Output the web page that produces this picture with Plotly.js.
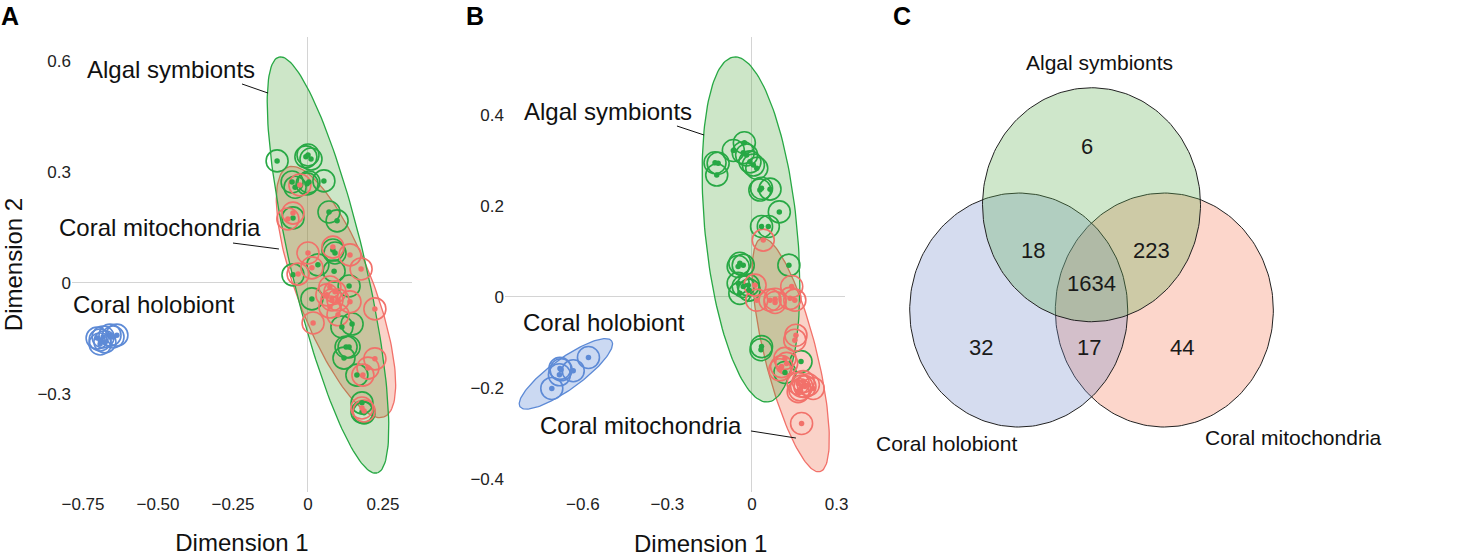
<!DOCTYPE html>
<html>
<head>
<meta charset="utf-8">
<script src="https://cdn.plot.ly/plotly-3.0.1.min.js"></script>
<style>html,body{margin:0;padding:0;background:#fff;}#chart{width:1463px;height:559px;}</style>
</head>
<body>
<div id="chart"></div>
<script>
// ---------------- DATA ----------------
// Panel A: PCoA (Dimension 1, Dimension 2)
const aAlgalX = [-0.103,-0.007,0.000,0.010,-0.053,-0.043,-0.003,0.003,0.053,0.070,0.097,-0.050,0.083,0.090,0.033,0.087,-0.050,0.137,0.013,0.147,0.113,0.127,0.137,0.120,0.163,0.180,0.180,0.187];
const aAlgalY = [0.330,0.341,0.346,0.335,0.273,0.259,0.268,0.273,0.276,0.192,0.168,0.176,0.089,0.081,0.049,0.032,0.022,-0.008,-0.043,-0.111,-0.119,-0.173,-0.173,-0.203,-0.249,-0.324,-0.349,-0.351];
const aMitoX = [-0.050,-0.067,-0.027,0.000,0.083,0.140,0.177,0.013,-0.033,0.073,0.063,0.080,0.090,0.100,0.073,0.140,0.223,0.017,0.100,0.223,0.200,0.183,0.180,0.187];
const aMitoY = [0.189,0.173,0.265,0.081,0.097,0.076,0.038,0.041,0.024,-0.011,-0.032,-0.046,-0.024,-0.046,-0.065,-0.051,-0.070,-0.108,-0.086,-0.205,-0.230,-0.249,-0.338,-0.346];
const aHoloX = [-0.703,-0.693,-0.683,-0.677,-0.660,-0.650,-0.693,-0.637];
const aHoloY = [-0.149,-0.154,-0.146,-0.159,-0.141,-0.146,-0.165,-0.141];

// Panel B
const bAlgalX = [-0.131,-0.120,-0.125,-0.066,-0.027,-0.031,-0.019,-0.007,0.005,0.017,0.028,0.034,0.064,0.097,0.034,0.058,0.131,-0.043,-0.031,-0.049,-0.049,-0.031,-0.013,-0.043,-0.010,0.034,0.032,0.174,0.117];
const bAlgalY = [0.295,0.294,0.268,0.322,0.339,0.317,0.312,0.297,0.290,0.283,0.235,0.239,0.237,0.187,0.155,0.155,0.070,0.074,0.070,0.067,0.030,0.023,0.026,0.008,0.015,-0.109,-0.116,-0.142,-0.166];
const bMitoX = [0.040,0.011,0.017,0.064,0.082,0.082,0.135,0.152,0.141,0.156,0.152,0.117,0.123,0.105,0.099,0.164,0.176,0.188,0.170,0.182,0.200,0.217,0.164,0.176];
const bMitoY = [0.125,0.026,-0.007,-0.007,-0.005,-0.012,-0.003,-0.007,0.023,-0.084,-0.095,-0.135,-0.146,-0.153,-0.160,-0.190,-0.196,-0.197,-0.204,-0.186,-0.193,-0.201,-0.208,-0.278];
const bHoloX = [-0.580,-0.634,-0.681,-0.683,-0.677,-0.710];
const bHoloY = [-0.133,-0.162,-0.157,-0.171,-0.160,-0.201];

// Confidence ellipses: centre and two conjugate semi-axis vectors (data units)
const ellNames = ['A Coral mitochondria','A Algal symbionts','B Coral holobiont','B Coral mitochondria','B Algal symbionts'];
const ellCx = [0.0933, 0.0667, -0.660, 0.1376, -0.0035];
const ellCy = [-0.0243, 0.0486, -0.169, -0.1275, 0.1484];
const ellUx = [0.1600, 0.1633, 0.1624, 0.1035, 0.0603];
const ellUy = [-0.3378, -0.5622, 0.0725, -0.2565, -0.3791];
const ellVx = [-0.1183, -0.1200, 0.0319, -0.0894, -0.1624];
const ellVy = [-0.0368, -0.0230, -0.0275, -0.0138, -0.0098];

// Panel C: Venn diagram
const vennSets = ['Algal symbionts','Coral holobiont','Coral mitochondria'];
const vennRegions = ['Algal only','Algal ∩ Holobiont','Algal ∩ Mito','All three','Holobiont only','Holobiont ∩ Mito','Mito only'];
const vennCounts = [6, 18, 223, 1634, 32, 17, 44];

// ---------------- STYLE / LAYOUT ----------------
const FONT = 'Liberation Sans, Arial, Helvetica, sans-serif';
const GREEN = '#27a844', RED = '#f2716a', BLUE = '#5d8ad6';
const FILL = {
  green: 'rgba(55,155,35,0.25)',
  red: 'rgba(238,105,72,0.30)',
  blue: 'rgba(93,138,214,0.32)'
};
const ellStyle = [
  {ax:'A', line:RED, fill:FILL.red},
  {ax:'A', line:GREEN, fill:FILL.green},
  {ax:'B', line:BLUE, fill:FILL.blue},
  {ax:'B', line:RED, fill:FILL.red},
  {ax:'B', line:GREEN, fill:FILL.green}
];

function ellipse(i){
  const xs=[], ys=[];
  for(let k=0;k<=160;k++){
    const t = 2*Math.PI*k/160;
    xs.push(ellCx[i] + ellUx[i]*Math.cos(t) + ellVx[i]*Math.sin(t));
    ys.push(ellCy[i] + ellUy[i]*Math.cos(t) + ellVy[i]*Math.sin(t));
  }
  return {xs, ys};
}

const traces = [];
ellNames.forEach((n,i)=>{
  const e = ellipse(i), s = ellStyle[i];
  traces.push({type:'scatter', mode:'lines', x:e.xs, y:e.ys, fill:'toself', fillcolor:s.fill,
    line:{color:s.line, width:1.3}, hoverinfo:'skip', name:n,
    xaxis: s.ax==='A'?'x':'x2', yaxis: s.ax==='A'?'y':'y2'});
});

function pts(x,y,color,xa,ya){
  traces.push({type:'scatter', mode:'markers', x, y, xaxis:xa, yaxis:ya, hoverinfo:'skip',
    marker:{symbol:'circle-open', size:22, color:color, line:{width:1.6, color:color}}});
}
function dots(x,y,color,xa,ya){
  traces.push({type:'scatter', mode:'markers', x, y, xaxis:xa, yaxis:ya, hoverinfo:'skip',
    marker:{symbol:'circle', size:5.5, color:color}});
}
pts(aAlgalX,aAlgalY,GREEN,'x','y'); pts(aMitoX,aMitoY,RED,'x','y'); pts(aHoloX,aHoloY,BLUE,'x','y');
dots(aAlgalX,aAlgalY,GREEN,'x','y'); dots(aMitoX,aMitoY,RED,'x','y'); dots(aHoloX,aHoloY,BLUE,'x','y');
pts(bAlgalX,bAlgalY,GREEN,'x2','y2'); pts(bMitoX,bMitoY,RED,'x2','y2'); pts(bHoloX,bHoloY,BLUE,'x2','y2');
dots(bAlgalX,bAlgalY,GREEN,'x2','y2'); dots(bMitoX,bMitoY,RED,'x2','y2'); dots(bHoloX,bHoloY,BLUE,'x2','y2');

// Venn circles (unit radius, layout positions)
const vennCentre = {
  'Coral mitochondria': [0.668, 0],
  'Coral holobiont': [-0.668, 0],
  'Algal symbionts': [0, 0.90]
};
const vennFill = {
  'Algal symbionts':'rgba(95,175,82,0.30)',
  'Coral holobiont':'rgba(115,138,202,0.30)',
  'Coral mitochondria':'rgba(245,118,82,0.30)'
};
['Coral mitochondria','Coral holobiont','Algal symbionts'].forEach(name=>{
  const c = vennCentre[name], xs=[], ys=[];
  for(let k=0;k<=200;k++){ const t=2*Math.PI*k/200; xs.push(c[0]+Math.cos(t)); ys.push(c[1]+Math.sin(t)); }
  traces.push({type:'scatter', mode:'lines', x:xs, y:ys, xaxis:'x3', yaxis:'y3', fill:'toself',
    fillcolor:vennFill[name], line:{color:'#222', width:1}, hoverinfo:'skip', name:name});
});
const regionPos = [[-0.04,1.40],[-0.54,0.51],[0.55,0.51],[0.00,0.23],[-1.01,-0.32],[-0.02,-0.32],[0.83,-0.32]];
const setLabelPos = {'Algal symbionts':[0.07,2.12], 'Coral holobiont':[-1.33,-1.14], 'Coral mitochondria':[1.85,-1.09]};

const ann = [];
vennCounts.forEach((v,i)=>ann.push({xref:'x3', yref:'y3', x:regionPos[i][0], y:regionPos[i][1], text:String(v),
  showarrow:false, font:{size:22, color:'#1a1a1a', family:FONT}}));
vennSets.forEach(s=>ann.push({xref:'x3', yref:'y3', x:setLabelPos[s][0], y:setLabelPos[s][1], text:s,
  showarrow:false, font:{size:21, color:'#111', family:FONT}}));

// Group labels on ordination panels
const lab = (xr,yr,x,y,t)=>ann.push({xref:xr, yref:yr, x, y, text:t, showarrow:false, font:{size:24, color:'#111', family:FONT}});
lab('x','y',-0.457,0.576,'Algal symbionts');
lab('x','y',-0.493,0.149,'Coral mitochondria');
lab('x','y',-0.513,-0.059,'Coral holobiont');
lab('x2','y2',-0.511,0.4066,'Algal symbionts');
lab('x2','y2',-0.525,-0.055,'Coral holobiont');
lab('x2','y2',-0.394,-0.2835,'Coral mitochondria');

// Panel letters
[['A',0.00684],['B',0.3247],['C',0.6165]].forEach(([t,x])=>ann.push({xref:'paper', yref:'paper', x, y:0.9714,
  text:'<b>'+t+'</b>', showarrow:false, xanchor:'center', yanchor:'middle', font:{size:25, color:'#000', family:FONT}}));
// Panel B x title
ann.push({xref:'paper', yref:'paper', x:0.4785, y:0, text:'Dimension 1', showarrow:false, xanchor:'center', yanchor:'bottom',
  font:{size:24, color:'#111', family:FONT}});

const leader = (xr,yr,x0,y0,x1,y1)=>({type:'line', xref:xr, yref:yr, x0, y0, x1, y1, line:{color:'#111', width:1}});
const shapes = [
  leader('x','y',-0.22,0.538,-0.1333,0.5135),
  leader('x','y',-0.25,0.108,-0.0967,0.0919),
  leader('x2','y2',-0.266,0.3758,-0.170,0.356),
  leader('x2','y2',-0.0035,-0.2945,0.156,-0.310)
];

const tickFont = {size:17, color:'#222', family:FONT};
const baseAx = {showgrid:false, zeroline:true, zerolinecolor:'#d4d4d4', zerolinewidth:1, showline:false,
  ticks:'', tickfont:tickFont, automargin:false, fixedrange:true, tickmode:'array'};

const layout = {
  width:1463, height:559, paper_bgcolor:'#fff', plot_bgcolor:'#fff', showlegend:false,
  margin:{l:0, r:0, t:0, b:0}, hovermode:false, font:{family:FONT},
  xaxis: Object.assign({}, baseAx, {domain:[0.04921,0.28161], range:[-0.7867,0.3467], anchor:'y',
    tickvals:[-0.75,-0.5,-0.25,0,0.25], ticktext:['−0.75','−0.50','−0.25','0','0.25'],
    title:{text:'Dimension 1', font:{size:24, color:'#111', family:FONT}, standoff:21}}),
  yaxis: Object.assign({}, baseAx, {domain:[0.11986,0.93381], range:[-0.565,0.665], anchor:'x',
    tickvals:[-0.3,0,0.3,0.6], ticktext:['−0.3','0','0.3','0.6'],
    title:{text:'Dimension 2', font:{size:24, color:'#111', family:FONT}, standoff:8}}),
  xaxis2: Object.assign({}, baseAx, {domain:[0.34518,0.57758], range:[-0.876,0.330], anchor:'y2',
    tickvals:[-0.6,-0.3,0,0.3], ticktext:['−0.6','−0.3','0','0.3']}),
  yaxis2: Object.assign({}, baseAx, {domain:[0.11986,0.93381], range:[-0.4286,0.5714], anchor:'x2',
    tickvals:[-0.4,-0.2,0,0.2,0.4], ticktext:['−0.4','−0.2','0','0.2','0.4']}),
  xaxis3: {domain:[0.58783,1], range:[-2.124,3.408], visible:false, fixedrange:true, anchor:'y3'},
  yaxis3: {domain:[0,1], range:[-2.128,2.650], visible:false, fixedrange:true, anchor:'x3'},
  annotations: ann,
  shapes: shapes
};

Plotly.newPlot('chart', traces, layout, {displayModeBar:false, staticPlot:true});
</script>
</body>
</html>
